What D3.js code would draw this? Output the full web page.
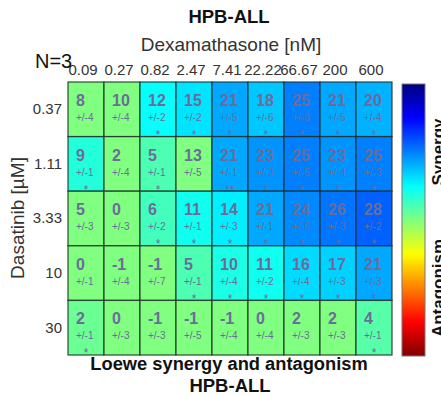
<!DOCTYPE html>
<html>
<head>
<meta charset="utf-8">
<script src="https://cdn.jsdelivr.net/npm/d3@7"></script>
<style>
  html, body { margin: 0; padding: 0; background: #fff; }
  svg { display: block; font-family: "Liberation Sans", Arial, sans-serif; }
</style>
</head>
<body>
<svg id="chart" width="441" height="396"></svg>
<script>
// Dose levels
const dexDoses = ["0.09", "0.27", "0.82", "2.47", "7.41", "22.22", "66.67", "200", "600"];
const dasDoses = ["0.37", "1.11", "3.33", "10", "30"];

// Loewe synergy score per (dasatinib row, dexamethasone column)
const loewe = [
  [8, 10, 12, 15, 21, 18, 25, 21, 20],
  [9, 2, 5, 13, 21, 23, 25, 23, 25],
  [5, 0, 6, 11, 14, 21, 24, 26, 28],
  [0, -1, -1, 5, 10, 11, 16, 17, 21],
  [2, 0, -1, -1, -1, 0, 2, 2, 4]
];
// Standard deviation over replicates
const loeweSd = [
  [4, 4, 2, 2, 5, 6, 3, 5, 4],
  [1, 4, 1, 5, 1, 3, 5, 4, 3],
  [3, 3, 2, 1, 3, 1, 6, 3, 2],
  [1, 4, 7, 1, 4, 2, 4, 3, 3],
  [1, 3, 3, 5, 4, 4, 3, 3, 1]
];
// Significance markers
const signif = [
  ["", "", "*", "*", "*", "*", "*", "*", "*"],
  ["*", "", "*", "", "**", "*", "*", "*", "*"],
  ["", "", "*", "*", "*", "*", "*", "*", "*"],
  ["", "", "", "*", "*", "*", "*", "*", "*"],
  ["*", "", "", "", "", "", "", "", "*"]
];
const colorRange = [-50, 50];
const replicates = 3;

// MATLAB-style jet colormap, t in [0,1] from dark blue to dark red
function jet(t) {
  t = Math.max(0, Math.min(1, t));
  const ch = x => Math.max(0, Math.min(1, 1.5 - Math.abs(4 * t - x)));
  return d3.rgb(ch(3) * 255, ch(2) * 255, ch(1) * 255);
}
// Synergy (positive) maps to blue, antagonism (negative) to red
const color = d3.scaleSequential(t => jet(1 - t)).domain(colorRange);

const svg = d3.select("#chart");
const grid = { left: 68, right: 392, top: 82, bottom: 355 };

const x = d3.scaleBand().domain(dexDoses).range([grid.left, grid.right]);
const y = d3.scaleBand().domain(dasDoses).range([grid.top, grid.bottom]);

const cells = [];
loewe.forEach((row, i) => row.forEach((v, j) => cells.push({
  das: dasDoses[i], dex: dexDoses[j], v, sd: loeweSd[i][j], sig: signif[i][j]
})));

// Heatmap cells: non-significant combinations are shown as neutral
svg.append("g").selectAll("rect").data(cells).join("rect")
  .attr("x", d => x(d.dex)).attr("y", d => y(d.das))
  .attr("width", x.bandwidth()).attr("height", y.bandwidth())
  .attr("fill", d => color(d.sig ? d.v : 0))
  .attr("stroke", "#1e2a24").attr("stroke-opacity", 0.8).attr("stroke-width", 1.3);

const labels = svg.append("g").attr("fill", "#6c6c9a");
labels.selectAll("text.val").data(cells).join("text").attr("class", "val")
  .attr("x", d => x(d.dex) + 8).attr("y", d => y(d.das) + 24)
  .attr("font-size", 16).attr("font-weight", "bold")
  .text(d => d.v);
labels.selectAll("text.sd").data(cells).join("text").attr("class", "sd")
  .attr("x", d => x(d.dex) + 8).attr("y", d => y(d.das) + 39)
  .attr("font-size", 10)
  .text(d => "+/-" + d.sd);
labels.selectAll("text.sig").data(cells.filter(d => d.sig)).join("text").attr("class", "sig")
  .attr("x", d => x(d.dex) + x.bandwidth() / 2).attr("y", d => y(d.das) + 57)
  .attr("text-anchor", "middle").attr("font-size", 12)
  .text(d => d.sig);

// Axes
const topAxis = svg.append("g").attr("transform", `translate(-3,${grid.top - 7})`)
  .call(d3.axisTop(x).tickSize(0).tickPadding(0));
topAxis.select(".domain").remove();
topAxis.selectAll("text").attr("font-size", 15).attr("fill", "#333")
  .attr("font-family", "Liberation Sans, Arial, sans-serif").attr("dy", 0);

const leftAxis = svg.append("g").attr("transform", `translate(${grid.left - 6},0)`)
  .call(d3.axisLeft(y).tickSize(0).tickPadding(0));
leftAxis.select(".domain").remove();
leftAxis.selectAll("text").attr("font-size", 15).attr("fill", "#333")
  .attr("font-family", "Liberation Sans, Arial, sans-serif");

// Titles
svg.append("text").attr("x", 229).attr("y", 23).attr("text-anchor", "middle")
  .attr("font-size", 18.5).attr("font-weight", "bold").attr("fill", "#111").text("HPB-ALL");
svg.append("text").attr("x", 231).attr("y", 51).attr("text-anchor", "middle")
  .attr("font-size", 19).attr("fill", "#333").text("Dexamathasone [nM]");
svg.append("text").attr("x", 35).attr("y", 68)
  .attr("font-size", 20).attr("fill", "#111").text("N=" + replicates);
svg.append("text").attr("transform", "translate(24,218) rotate(-90)").attr("text-anchor", "middle")
  .attr("font-size", 19).attr("fill", "#333").text("Dasatinib [µM]");
svg.append("text").attr("x", 229).attr("y", 370).attr("text-anchor", "middle")
  .attr("font-size", 18.3).attr("font-weight", "bold").attr("fill", "#111").text("Loewe synergy and antagonism");
svg.append("text").attr("x", 230).attr("y", 392).attr("text-anchor", "middle")
  .attr("font-size", 18.5).attr("font-weight", "bold").attr("fill", "#111").text("HPB-ALL");

// Colour bar
const cb = { x: 402, w: 23 };
const cbScale = d3.scaleLinear().domain(colorRange.slice().reverse()).range([84, 356]);
const grad = svg.append("defs").append("linearGradient").attr("id", "cbgrad")
  .attr("x1", 0).attr("x2", 0).attr("y1", 0).attr("y2", 1);
d3.range(0, 1.0001, 0.02).forEach(t => {
  grad.append("stop").attr("offset", t)
    .attr("stop-color", color(colorRange[1] - t * (colorRange[1] - colorRange[0])));
});
svg.append("rect").attr("x", cb.x).attr("y", cbScale(colorRange[1]))
  .attr("width", cb.w).attr("height", cbScale(colorRange[0]) - cbScale(colorRange[1]))
  .attr("fill", "url(#cbgrad)").attr("stroke", "#777").attr("stroke-width", 1);
svg.append("text").attr("transform", `translate(444,${cbScale(25)}) rotate(-90)`)
  .attr("text-anchor", "middle").attr("font-size", 17).attr("font-weight", "bold")
  .attr("fill", "#111").text("Synergy");
svg.append("text").attr("transform", `translate(444,${cbScale(-25)}) rotate(-90)`)
  .attr("text-anchor", "middle").attr("font-size", 17).attr("font-weight", "bold")
  .attr("fill", "#111").text("Antagonism");
</script>
</body>
</html>
